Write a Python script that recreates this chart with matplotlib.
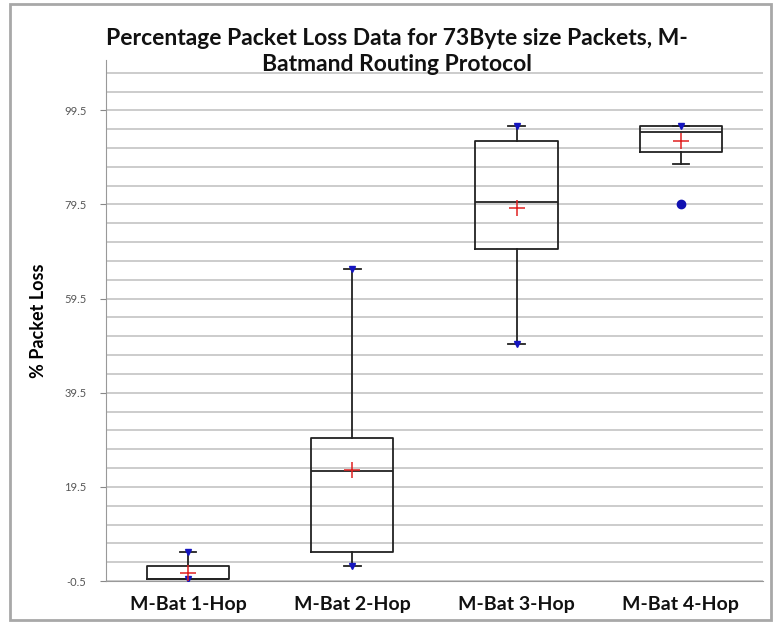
import numpy as np
import matplotlib
matplotlib.use('Agg')
import matplotlib.pyplot as plt
from matplotlib.patches import Rectangle

# Box plot statistics (% packet loss)
labels = ['M-Bat 1-Hop', 'M-Bat 2-Hop', 'M-Bat 3-Hop', 'M-Bat 4-Hop']
mins = [0.0, 2.7, 49.9, 79.6]
whis_lo = [0.0, 2.7, 49.9, 88.1]
q1s = [0.0, 5.7, 70.0, 90.6]
medians = [0.0, 22.9, 80.0, 94.9]
q3s = [2.7, 29.8, 92.9, 96.1]
maxs = [5.7, 65.8, 96.1, 96.1]
means = [1.2, 23.1, 78.7, 93.0]
outliers = [[], [], [], [79.6]]

# y-axis ticks
major_ticks = [-0.5, 19.5, 39.5, 59.5, 79.5, 99.5]
minor_ticks = list(np.arange(-0.5, 108, 4))

plt.rcParams['font.family'] = ['Lato', 'DejaVu Sans']

fig = plt.figure(figsize=(7.73, 6.23), dpi=100)
ax = fig.add_axes([0.137, 0.0674, 0.85, 0.8363])

positions = np.arange(1, len(labels) + 1)
stats = []
for i in range(len(labels)):
    stats.append({'med': medians[i], 'q1': q1s[i], 'q3': q3s[i],
                  'whislo': whis_lo[i], 'whishi': maxs[i],
                  'fliers': outliers[i], 'mean': means[i]})

ax.bxp(stats, positions=positions, widths=0.5, capwidths=0.1,
       showmeans=False, showfliers=True,
       boxprops=dict(color='#222222', linewidth=1.3),
       medianprops=dict(color='#222222', linewidth=1.3),
       whiskerprops=dict(color='#222222', linewidth=1.3),
       capprops=dict(color='#222222', linewidth=1.3),
       flierprops=dict(marker='o', markerfacecolor='#1010b0',
                       markeredgecolor='#1010b0', markersize=6))

# min / max markers (min of 4-Hop is the outlier dot itself)
min_pos = [p for p, m, w in zip(positions, mins, whis_lo) if m == w]
min_val = [m for m, w in zip(mins, whis_lo) if m == w]
ax.plot(min_pos, min_val, linestyle='none', marker='v', color='#1515c0',
        markersize=5, zorder=4)
ax.plot(positions, maxs, linestyle='none', marker='v', color='#1515c0',
        markersize=5, zorder=4)
# means
ax.plot(positions, means, linestyle='none', marker='+', color='#e02020',
        markersize=12, markeredgewidth=1.1, zorder=5)

ax.set_xlim(0.5, 4.5)
ax.set_ylim(-0.5, 110.2)
ax.set_yticks(major_ticks)
ax.set_yticklabels([str(t) for t in major_ticks])
ax.set_yticks(minor_ticks, minor=True)
ax.yaxis.grid(True, which='both', color='#c4c4c4', linewidth=1.2)
ax.set_axisbelow(True)
ax.tick_params(axis='y', which='major', labelsize=8, labelcolor='#555555',
               color='#888888', length=4, pad=10)
ax.tick_params(axis='y', which='minor', length=0)
ax.tick_params(axis='x', length=0, pad=11)
ax.set_xticks(positions)
ax.set_xticklabels(labels, fontsize=14, fontweight='bold', color='#111111')

for side in ['top', 'right']:
    ax.spines[side].set_visible(False)
ax.spines['left'].set_color('#999999')
ax.spines['bottom'].set_color('#999999')

ax.set_ylabel('% Packet Loss', fontsize=13, fontweight='bold', labelpad=12)

fig.text(0.513, 0.918, 'Percentage Packet Loss Data for 73Byte size Packets, M-\nBatmand Routing Protocol',
         ha='center', va='center', fontsize=16.5, fontweight='bold',
         linespacing=1.3, color='#111111')

# chart area border
fig.patches.append(Rectangle((0.013, 0.005), 0.984, 0.989, transform=fig.transFigure,
                             fill=False, edgecolor='#a8a8a8', linewidth=2))

fig.savefig('out.png', dpi=100)
